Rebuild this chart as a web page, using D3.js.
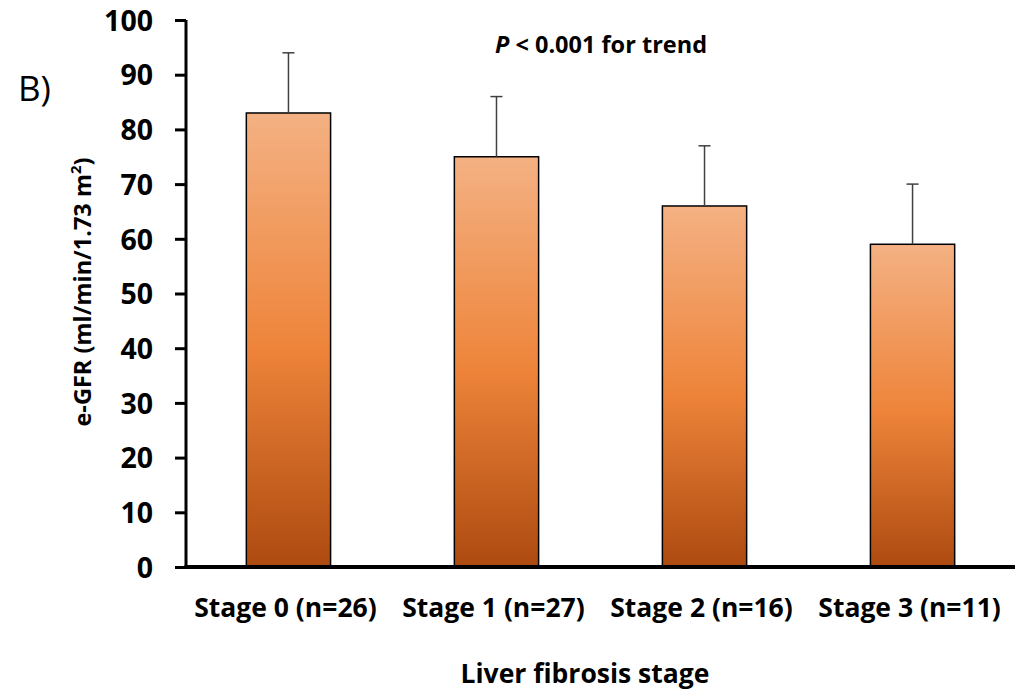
<!DOCTYPE html>
<html><head><meta charset="utf-8">
<script src="https://cdn.jsdelivr.net/npm/d3@7"></script>
<style>body{margin:0;background:#fff}svg{display:block}</style>
</head><body>
<svg id="c" width="1034" height="696"></svg>
<script>
const categories = ["Stage 0 (n=26)", "Stage 1 (n=27)", "Stage 2 (n=16)", "Stage 3 (n=11)"];
const values = [83, 75, 66, 59];
const errors = [11, 11, 11, 11];
const yTicks = [0, 10, 20, 30, 40, 50, 60, 70, 80, 90, 100];

(function () {
const svg = d3.select("#c");
const FONT = "'Open Sans', 'Noto Sans', sans-serif";
const mLeft = 186, mRight = 1015, mTop = 20, mBottom = 567;

const x = d3.scaleBand().domain(categories).range([mLeft, mRight]).paddingInner(0.595).paddingOuter(0.29);
const y = d3.scaleLinear().domain([0, 100]).range([mBottom, mTop]);

const defs = svg.append("defs");
const g = defs.append("linearGradient").attr("id", "grad").attr("x1", 0).attr("y1", 0).attr("x2", 0).attr("y2", 1);
g.append("stop").attr("offset", "0%").attr("stop-color", "#F4B183");
g.append("stop").attr("offset", "52%").attr("stop-color", "#EE843A");
g.append("stop").attr("offset", "100%").attr("stop-color", "#AD4A10");

svg.selectAll("rect.bar").data(values).enter().append("rect")
  .attr("class", "bar")
  .attr("x", (d, i) => x(categories[i]))
  .attr("y", d => y(d))
  .attr("width", x.bandwidth())
  .attr("height", d => y(0) - y(d))
  .attr("fill", "url(#grad)")
  .attr("stroke", "#000").attr("stroke-width", 1.5);

const eb = svg.append("g").attr("stroke", "#404040").attr("stroke-width", 1.5);
values.forEach((v, i) => {
  const cx = x(categories[i]) + x.bandwidth() / 2;
  eb.append("line").attr("x1", cx).attr("x2", cx).attr("y1", y(v)).attr("y2", y(v + errors[i]));
  eb.append("line").attr("x1", cx - 6).attr("x2", cx + 6).attr("y1", y(v + errors[i])).attr("y2", y(v + errors[i]));
});

const yAxis = svg.append("g").attr("transform", `translate(${mLeft},0)`)
  .call(d3.axisLeft(y).tickValues(yTicks).tickSize(11).tickPadding(22).tickFormat(d3.format("d")));
yAxis.select(".domain").attr("stroke", "#000").attr("stroke-width", 3).attr("d", `M0,${mTop}V${mBottom}`);
yAxis.selectAll(".tick line").attr("stroke", "#000").attr("stroke-width", 3);
yAxis.selectAll(".tick text").attr("font-family", FONT).attr("font-weight", "bold")
  .attr("font-size", 28.5).attr("fill", "#000").attr("dy", "0.36em");

const xAxis = svg.append("g").attr("transform", `translate(0,${mBottom})`)
  .call(d3.axisBottom(x).tickSize(0).tickPadding(0));
xAxis.select(".domain").attr("stroke", "#000").attr("stroke-width", 4).attr("d", `M${mLeft - 1.5},0H${mRight}`);
xAxis.selectAll(".tick text").attr("font-family", FONT).attr("font-weight", "bold")
  .attr("font-size", 26.5).attr("fill", "#000").attr("y", 50).attr("dy", 0)
  .attr("dx", -3);

svg.append("text").attr("x", 585).attr("y", 683).attr("text-anchor", "middle")
  .attr("font-family", FONT).attr("font-weight", "bold").attr("font-size", 26.5)
  .text("Liver fibrosis stage");

const yt = svg.append("text").attr("transform", "translate(91,292) rotate(-90)")
  .attr("text-anchor", "middle")
  .attr("font-family", FONT).attr("font-weight", "bold").attr("font-size", 23.5);
yt.append("tspan").text("e-GFR (ml/min/1.73 m");
yt.append("tspan").attr("font-size", 15).attr("dy", -10).text("2");
yt.append("tspan").attr("dy", 10).text(")");

const ann = svg.append("text").attr("x", 601).attr("y", 53).attr("text-anchor", "middle")
  .attr("font-family", FONT).attr("font-weight", "bold").attr("font-size", 23.5);
ann.append("tspan").attr("font-style", "italic").text("P");
ann.append("tspan").text(" < 0.001 for trend");

svg.append("text").attr("x", 18).attr("y", 101).attr("font-family", FONT)
  .attr("font-size", 35).text("B)");
})();
</script>
</body></html>
